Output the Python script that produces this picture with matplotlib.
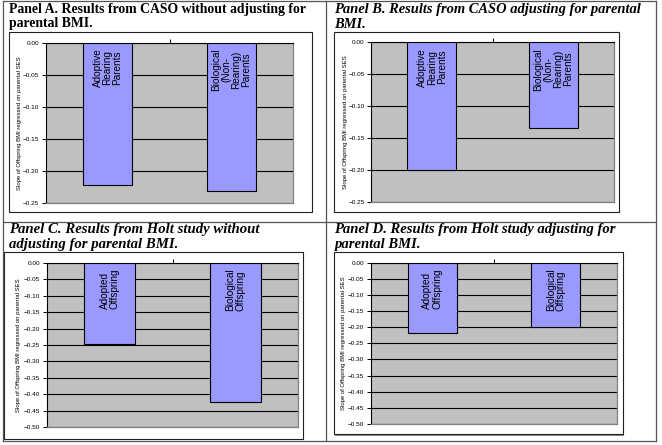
import matplotlib
matplotlib.use("Agg")
import matplotlib.pyplot as plt
from matplotlib.patches import Rectangle
from matplotlib.lines import Line2D

W, H = 662, 445

titles = [
    "Panel A. Results from CASO without adjusting for\nparental BMI.",
    "Panel B. Results from CASO adjusting for parental\nBMI.",
    "Panel C. Results from Holt study without\nadjusting for parental BMI.",
    "Panel D. Results from Holt study adjusting for\nparental BMI.",
]
title_italic = [False, True, True, True]
categories_caso = ["Adoptive\nRearing\nParents", "Biological\n(Non-\nRearing)\nParents"]
categories_holt = ["Adopted\nOffspring", "Biological\nOffspring"]
values_a = [-0.221, -0.231]
values_b = [-0.200, -0.134]
values_c = [-0.248, -0.424]
values_d = [-0.217, -0.200]
ylabel = "Slope of Offspring BMI regressed on parental SES"

# layout in pixels: (title x, title y, title line1 width, frame box, plot box)
panels = [
    dict(tx=9, ty=3, tw=298, frame=(9, 32, 312, 212), plot=(45.7, 42.7, 293.3, 203.3),
         cats=categories_caso, vals=values_a, ymin=-0.25, ylab_x=19.5, align="center"),
    dict(tx=334, ty=3, tw=309, frame=(334, 32, 619, 212), plot=(371, 42.3, 614, 202.3),
         cats=categories_caso, vals=values_b, ymin=-0.25, ylab_x=345, align="center"),
    dict(tx=9, ty=223, tw=251, frame=(4, 252, 303, 439), plot=(46.7, 262.7, 298.3, 427.3),
         cats=categories_holt, vals=values_c, ymin=-0.50, ylab_x=19, align="left"),
    dict(tx=334, ty=223, tw=282, frame=(334, 252, 622.7, 434.3), plot=(370.7, 262.7, 617.3, 424),
         cats=categories_holt, vals=values_d, ymin=-0.50, ylab_x=344, align="left"),
]

fig = plt.figure(figsize=(W / 100, H / 100), dpi=100)
fig.patch.set_facecolor("white")

def fx(x):
    return x / W

def fy(y):
    return 1 - y / H

# table borders
tcol = "#555555"
for (x0, y0, x1, y1) in [(2.5, 1, 2.5, 441), (326, 1, 326, 441), (656, 1, 656, 441),
                         (2.5, 1, 656, 1), (2.5, 222, 656, 222), (2.5, 441, 656, 441)]:
    fig.add_artist(Line2D([fx(x0), fx(x1)], [fy(y0), fy(y1)], color=tcol, lw=0.9))

renderer = fig.canvas.get_renderer()

for i, p in enumerate(panels):
    # title, fitted to measured width
    t = fig.text(fx(p["tx"]), fy(p["ty"]), titles[i], ha="left", va="top",
                 family="Liberation Serif", weight="bold",
                 style="italic" if title_italic[i] else "normal",
                 fontsize=10.5, linespacing=1.15)
    w = t.get_window_extent(renderer).width
    t.set_fontsize(10.5 * p["tw"] / w)

    # chart frame
    x0, y0, x1, y1 = p["frame"]
    fig.add_artist(Rectangle((fx(x0) + 1.2 / W, fy(y1) - 1.2 / H), (x1 - x0) / W, (y1 - y0) / H,
                             transform=fig.transFigure, facecolor="#888888", edgecolor="none", zorder=0))
    fig.add_artist(Rectangle((fx(x0), fy(y1)), (x1 - x0) / W, (y1 - y0) / H,
                             transform=fig.transFigure, facecolor="white", edgecolor="#222222",
                             lw=0.8, zorder=0.5))

    # plot area
    l, tp, r, b = p["plot"]
    ax = fig.add_axes([fx(l), fy(b), (r - l) / W, (b - tp) / H])
    ax.set_zorder(2)
    ax.set_facecolor("#C0C0C0")
    ax.set_xlim(-0.5, 1.5)
    ax.set_ylim(p["ymin"], 0)
    step = 0.05
    n = int(round(-p["ymin"] / step))
    ticks = [-k * step for k in range(n + 1)]
    ax.set_yticks(ticks)
    ax.set_yticklabels(["0.00" if k == 0 else "\u2212%.2f" % (k * step) for k in range(n + 1)],
                       family="Liberation Sans", fontsize=4.6)
    ax.yaxis.grid(True, color="black", lw=0.8)
    ax.set_axisbelow(True)
    ax.tick_params(axis="y", direction="out", length=3, width=0.7, pad=1.5, color="black")
    ax.xaxis.set_ticks_position("top")
    ax.set_xticks([0.5])
    ax.set_xticklabels([""])
    ax.tick_params(axis="x", direction="out", length=3, width=0.7, color="black")
    for s in ["bottom", "right"]:
        ax.spines[s].set_color("#808080")
        ax.spines[s].set_linewidth(0.9)
    ax.spines["left"].set_color("black")
    ax.spines["top"].set_color("black")
    ax.spines["left"].set_linewidth(0.8)
    ax.spines["top"].set_linewidth(0.8)

    xs = list(range(len(p["cats"])))
    ax.bar(xs, p["vals"], width=0.4, color="#9999FF", edgecolor="black", lw=0.8, zorder=3)
    for xi, cat in zip(xs, p["cats"]):
        ax.annotate(cat, (xi, 0), xytext=(0, -4), textcoords="offset points",
                    rotation=90, ha="center", va="top", multialignment=p["align"],
                    family="Liberation Sans", fontsize=7.2, linespacing=1.0, zorder=4)

    fig.text(fx(p["ylab_x"]), fy((tp + b) / 2), ylabel, rotation=90, ha="center", va="center",
             family="Liberation Sans", fontsize=4.3)

fig.savefig("out.png", dpi=100)
